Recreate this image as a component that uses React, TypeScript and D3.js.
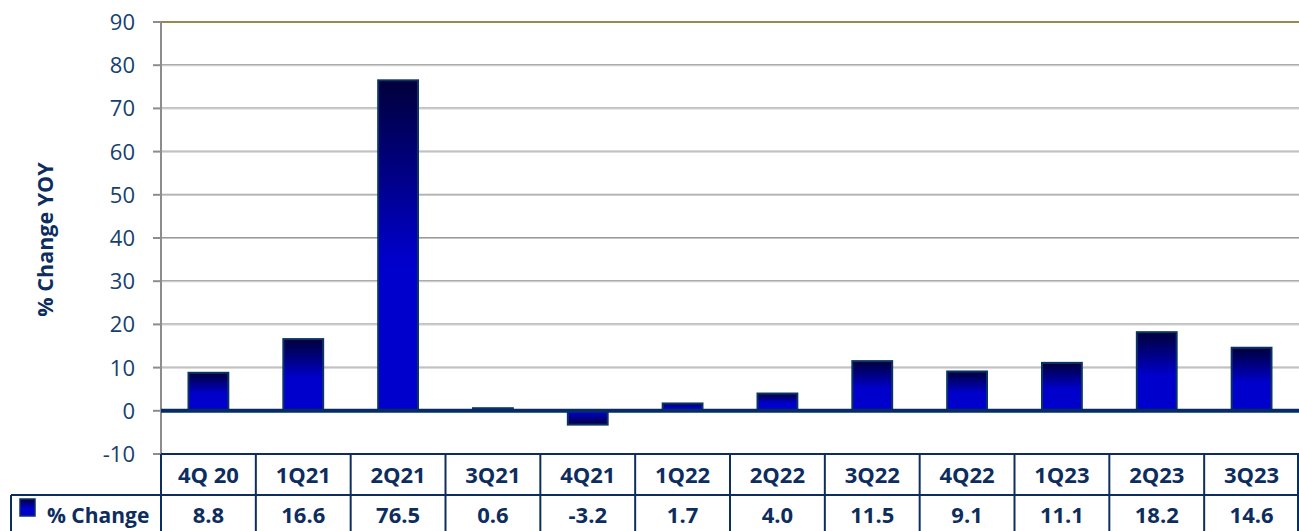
import React from "react";
import * as d3 from "d3";

const categories = ["4Q 20", "1Q21", "2Q21", "3Q21", "4Q21", "1Q22", "2Q22", "3Q22", "4Q22", "1Q23", "2Q23", "3Q23"];
const values = [8.8, 16.6, 76.5, 0.6, -3.2, 1.7, 4.0, 11.5, 9.1, 11.1, 18.2, 14.6];
const yTicks = [-10, 0, 10, 20, 30, 40, 50, 60, 70, 80, 90];
const seriesName = "% Change";
const axisTitle = "% Change YOY";

const W = 1299, H = 531;
const left = 161, right = 1299, top = 22, bottom = 454;
const rowH = 41;
const legendLeft = 11;
const textColor = "#0d2d5e";
const font = "'Open Sans', Lato, sans-serif";

export default function App() {
  const x = d3.scaleBand<string>().domain(categories).range([left, right]).paddingInner(0.58).paddingOuter(0.29);
  const y = d3.scaleLinear().domain([-10, 90]).range([bottom, top]);
  const band = (right - left) / categories.length;
  const lines = d3.range(categories.length + 1).map((i) => left + i * band);

  return (
    <svg width={W} height={H} style={{ position: "absolute", left: 0, top: 0, display: "block" }}>
      <defs>
        <linearGradient id="gPos" x1="0" y1="0" x2="0" y2="1">
          <stop offset="0" stopColor="#00003a" />
          <stop offset="0.55" stopColor="#0000cc" />
          <stop offset="1" stopColor="#0000cc" />
        </linearGradient>
        <linearGradient id="gNeg" x1="0" y1="1" x2="0" y2="0">
          <stop offset="0" stopColor="#00003a" />
          <stop offset="0.9" stopColor="#0000cc" />
          <stop offset="1" stopColor="#0000cc" />
        </linearGradient>
      </defs>
      <rect width={W} height={H} fill="#fff" />
      {/* gridlines */}
      {yTicks.filter((t) => t !== 0 && t !== 90 && t !== -10).map((t) => (
        <g key={t}>
          <line x1={left} x2={right} y1={y(t) - 0.5} y2={y(t) - 0.5} stroke="#999" strokeWidth={1} />
          <line x1={left} x2={right} y1={y(t) + 0.5} y2={y(t) + 0.5} stroke="#c4c4c4" strokeWidth={1} />
        </g>
      ))}
      <line x1={left} x2={right} y1={y(90)} y2={y(90)} stroke="#938a4e" strokeWidth={2} />
      {/* axis */}
      <line x1={left} x2={left} y1={top} y2={bottom} stroke="#8c8c8c" strokeWidth={2} />
      {yTicks.map((t) => (
        <g key={t}>
          <line x1={left - 8} x2={left} y1={y(t)} y2={y(t)} stroke="#8c8c8c" strokeWidth={2} />
          <text x={135} y={y(t)} dy="0.36em" textAnchor="end" fontFamily={font} fontSize={22} fill="#15406f">{t}</text>
        </g>
      ))}
      {/* bars */}
      {categories.map((c, i) => {
        const v = values[i];
        const y0 = y(0), y1 = y(v);
        return (
          <rect key={c} x={x(c)!} width={x.bandwidth()} y={Math.min(y0, y1)} height={Math.abs(y1 - y0)}
            fill={v >= 0 ? "url(#gPos)" : "url(#gNeg)"} stroke="#0b3466" strokeWidth={2} />
        );
      })}
      <line x1={left} x2={right} y1={y(0)} y2={y(0)} stroke="#062d63" strokeWidth={4} />
      {/* table */}
      <g fontFamily={font} fontWeight="bold" fill={textColor}>
        <line x1={left} x2={right} y1={bottom} y2={bottom} stroke="#0d2d5e" strokeWidth={2} />
        <line x1={legendLeft} x2={right} y1={bottom + rowH} y2={bottom + rowH} stroke="#0d2d5e" strokeWidth={2} />
        <line x1={legendLeft} x2={legendLeft} y1={bottom + rowH} y2={H} stroke="#0d2d5e" strokeWidth={2} />
        {lines.map((lx, i) => (
          <line key={i} x1={Math.min(lx, right - 1)} x2={Math.min(lx, right - 1)} y1={bottom} y2={H} stroke="#0d2d5e" strokeWidth={2} />
        ))}
        {categories.map((c, i) => (
          <text key={c} x={left + (i + 0.5) * band} y={483} textAnchor="middle" fontSize={22}>{c}</text>
        ))}
        {values.map((v, i) => (
          <text key={i} x={left + (i + 0.5) * band} y={523} textAnchor="middle" fontSize={22}>{v.toFixed(1)}</text>
        ))}
        <rect x={20} y={499} width={15} height={17} fill="url(#gPos)" stroke="#0b3466" strokeWidth={1.5} />
        <text x={47} y={523} fontSize={21}>{seriesName}</text>
      </g>
      <text transform={`translate(53,239.5) rotate(-90)`} textAnchor="middle" fontFamily={font} fontWeight="bold" fontSize={21.5} fill={textColor}>{axisTitle}</text>
    </svg>
  );
}
